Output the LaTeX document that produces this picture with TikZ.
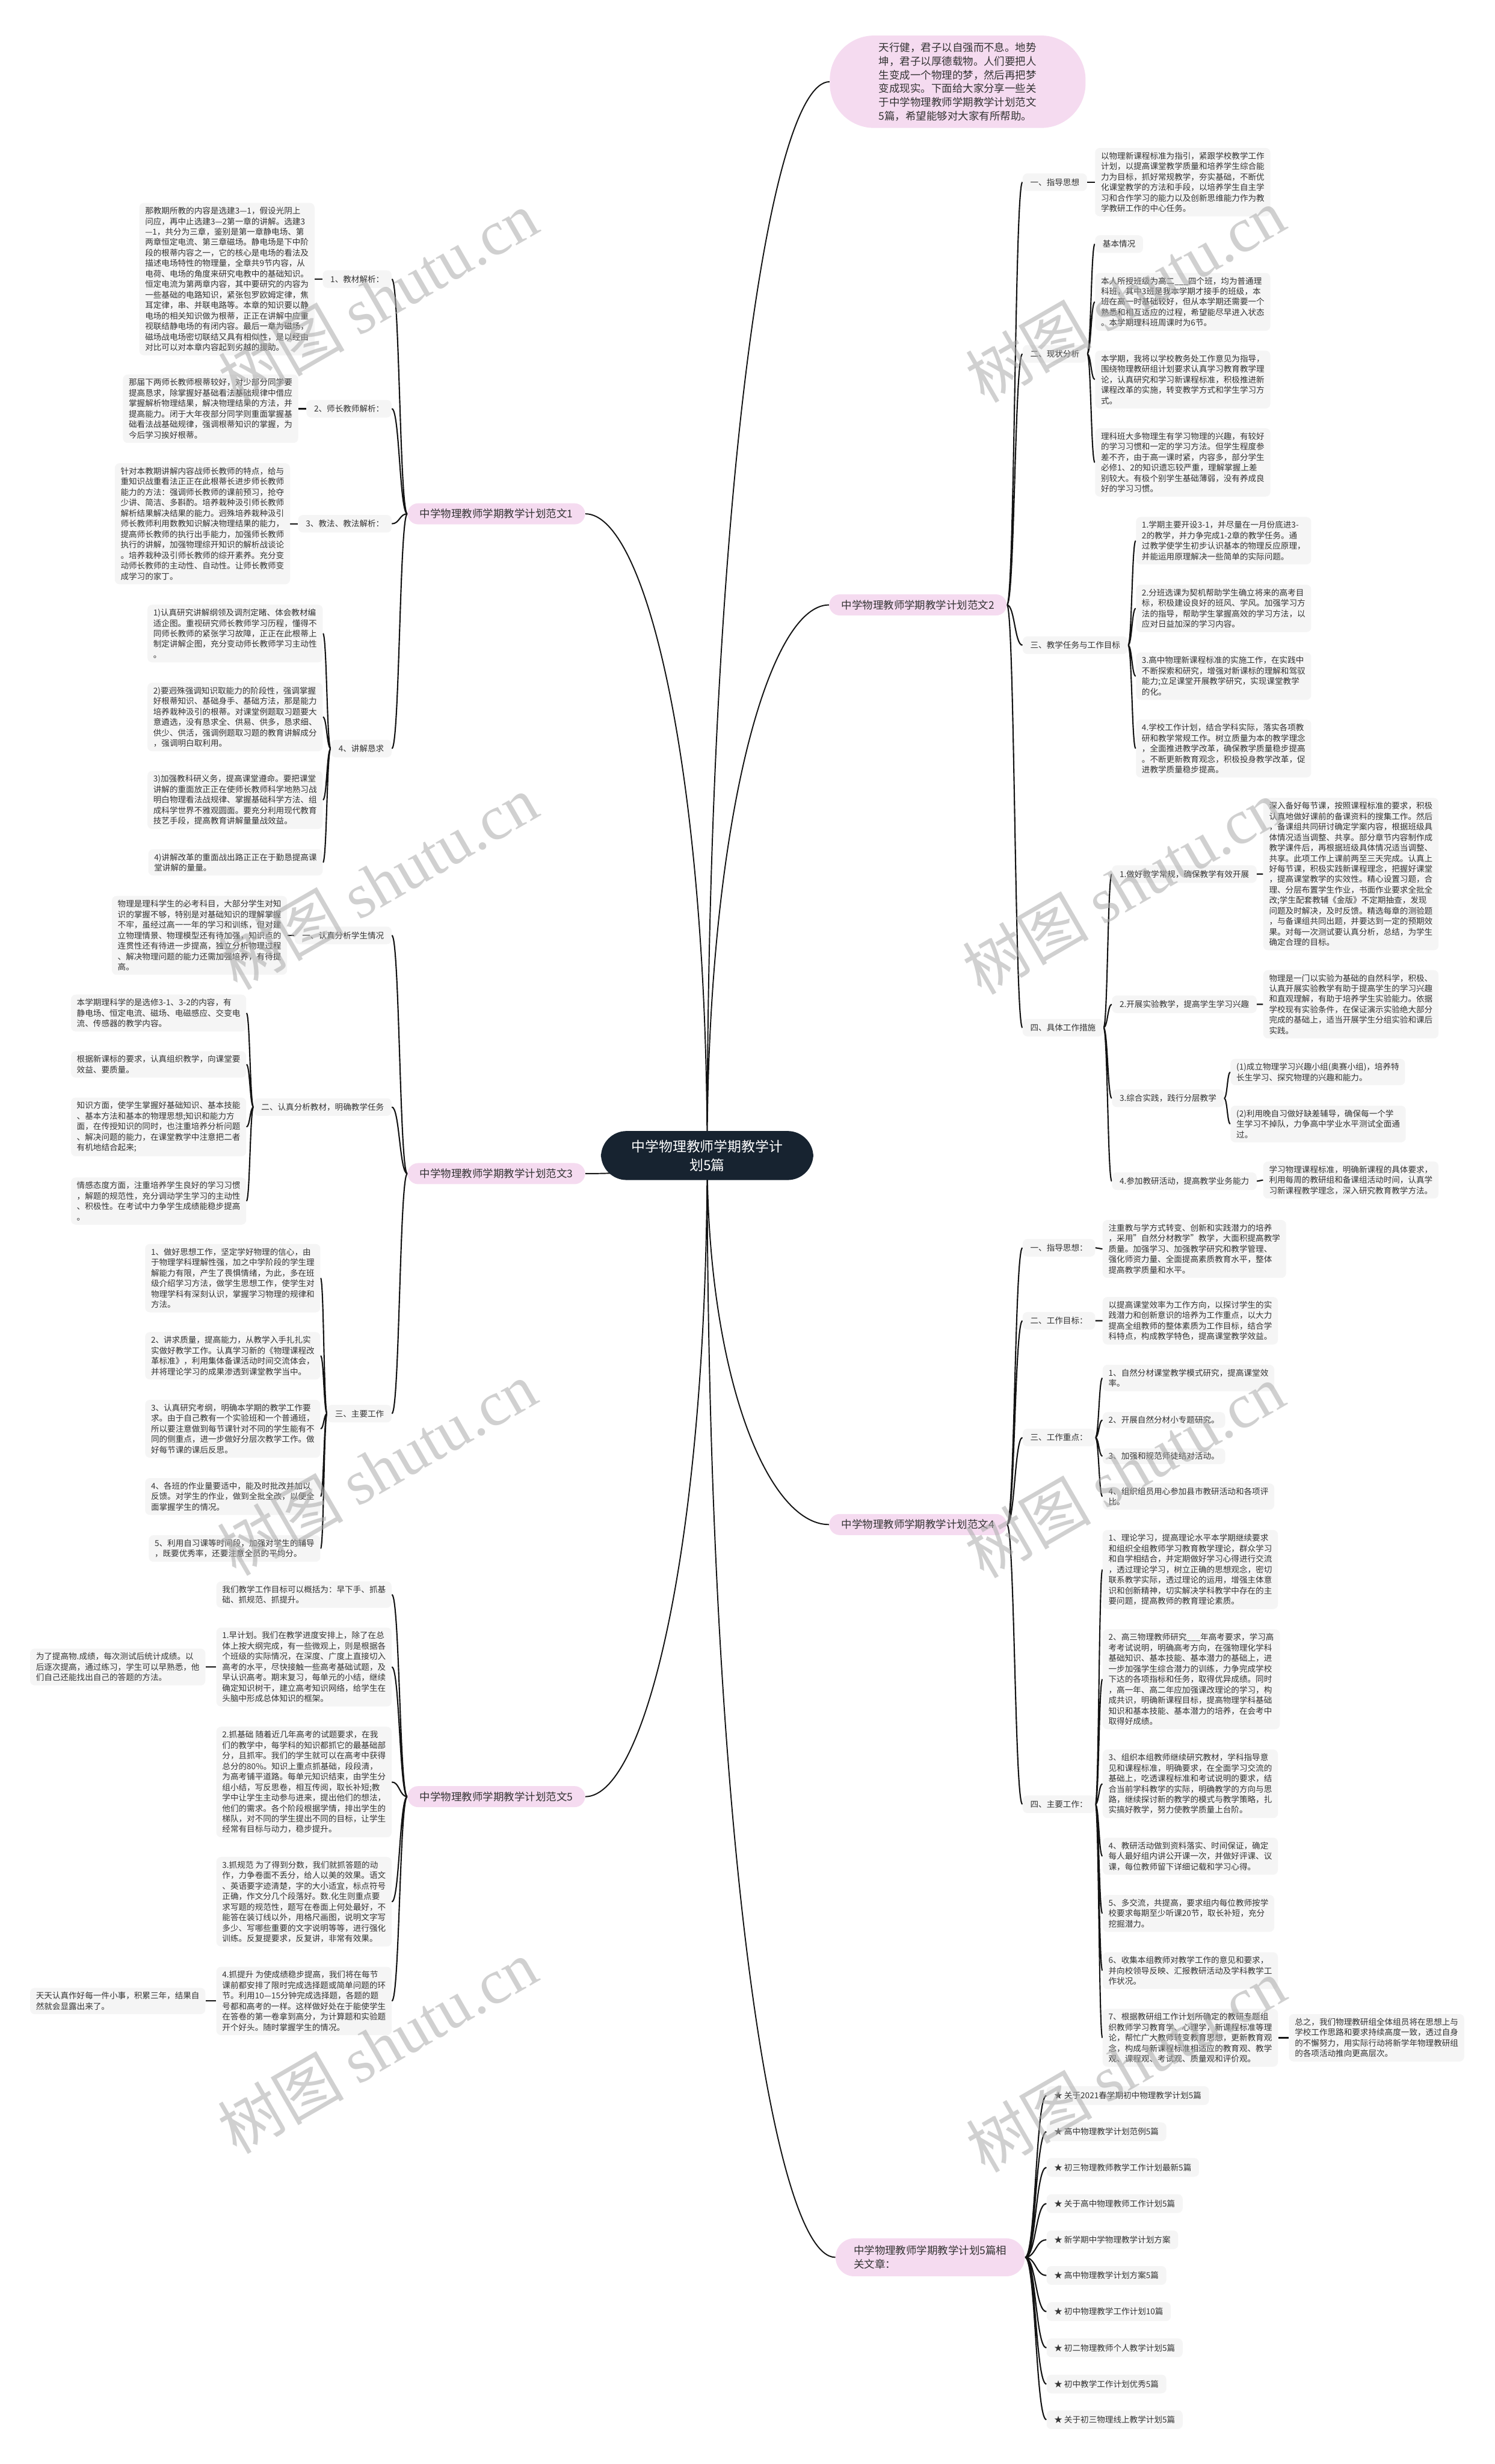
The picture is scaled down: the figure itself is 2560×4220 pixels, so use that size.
\documentclass[tikz,border=0pt]{standalone}
\usepackage{fontspec}
\setmainfont{Noto Sans CJK SC}
\newfontfamily\stampfont{Liberation Serif}
\usetikzlibrary{calc,backgrounds}

\definecolor{pillpink}{RGB}{245,219,240}
\definecolor{boxgray}{RGB}{245,245,245}
\definecolor{rootnavy}{RGB}{23,35,48}
\definecolor{inkgray}{RGB}{51,51,51}
\definecolor{inkblack}{RGB}{20,20,20}
\definecolor{stampgray}{RGB}{170,170,170}

\begin{document}
\begin{tikzpicture}[
  x=0.5pt, y=-0.5pt,
  font=\fontsize{7pt}{9pt}\selectfont,
  every node/.style={text=inkgray},
  topic/.style={fill=rootnavy, text=white, rounded corners=22pt, align=center, inner xsep=26pt, inner ysep=7.5pt, font=\fontsize{11.8pt}{16pt}\selectfont},
  intro/.style={fill=pillpink, rounded corners=38pt, align=left, inner xsep=42pt, inner ysep=6pt, font=\fontsize{9pt}{11.7pt}\selectfont},
  theme/.style={fill=pillpink, rounded corners=9pt, minimum height=18pt, inner xsep=10.5pt, font=\fontsize{9pt}{12pt}\selectfont},
  heading/.style={fill=boxgray, rounded corners=4pt, minimum height=15pt, inner xsep=6.5pt},
  passage/.style={fill=boxgray, rounded corners=4pt, align=left, inner xsep=5pt, inner ysep=3.5pt},
  link/.style={draw=inkblack, line width=1.1pt, to path={let \p1=(\tikztostart), \p2=(\tikztotarget) in .. controls ({(\x1+\x2)/2},\y1) and ({(\x1+\x2)/2},\y2) .. (\tikztotarget)}},
  rootlink/.style={draw=inkblack, line width=1pt, to path={let \p1=(\tikztostart), \p2=(\tikztotarget) in .. controls (\x1,{\y1+0.6*(\y2-\y1)}) and ({(\x1+\x2)/2},\y2) .. (\tikztotarget)}},
  stamp/.style={text=stampgray, text opacity=0.55, rotate=30, font=\fontsize{54pt}{54pt}\selectfont}
]
\useasboundingbox (0,0) rectangle (2560,4220);

\node[topic] (root) at (1211,1979) {中学物理教师学期教学计\\划5篇};

\node[intro] (bub) at (1640,140) {天行健，君子以自强而不息。地势\\坤，君子以厚德载物。人们要把人\\生变成一个物理的梦，然后再把梦\\变成现实。下面给大家分享一些关\\于中学物理教师学期教学计划范文\\5篇，希望能够对大家有所帮助。};

\node[theme] (b1) at (850,880) {中学物理教师学期教学计划范文1};
\node[theme] (b2) at (1572,1036) {中学物理教师学期教学计划范文2};
\node[theme] (b3) at (850,2010) {中学物理教师学期教学计划范文3};
\node[theme] (b4) at (1572,2611) {中学物理教师学期教学计划范文4};
\node[theme] (b5) at (850,3077) {中学物理教师学期教学计划范文5};
\node[theme, align=left, inner xsep=15.5pt, minimum height=32.5pt, rounded corners=16pt] (rel) at (1593,3866) {中学物理教师学期教学计划5篇相\\关文章：};

\node[heading, anchor=east] (s11) at (671,478) {1、教材解析：};
\node[heading, anchor=east] (s12) at (671,700) {2、师长教师解析：};
\node[heading, anchor=east] (s13) at (671,897) {3、教法、教法解析：};
\node[heading, anchor=east] (s14) at (671,1282) {4、讲解恳求};

\node[passage, anchor=east] (t11) at (539,478) {那教期所教的内容是选建3—1，假设光阴上\\问应，再中止选建3—2第一章的讲解。选建3\\—1，共分为三章，鉴别是第一章静电场、第\\两章恒定电流、第三章磁场。静电场是下中阶\\段的根蒂内容之一，它的核心是电场的看法及\\描述电场特性的物理量，全章共9节内容，从\\电荷、电场的角度来研究电教中的基础知识。\\恒定电流为第两章内容，其中要研究的内容为\\一些基础的电路知识，紧张包罗欧姆定律，焦\\耳定律，串、并联电路等。本章的知识要以静\\电场的相关知识做为根蒂，正正在讲解中应重\\视联结静电场的有闭内容。最后一章为磁场，\\磁场战电场密切联结又具有相似性，是以经由\\对比可以对本章内容起到劣越的援助。};
\node[passage, anchor=east] (t12) at (511,700) {那届下两师长教师根蒂较好，对少部分同学要\\提高恳求，除掌握好基础看法基础规律中借应\\掌握解析物理结果，解决物理结果的方法，并\\提高能力。闭于大年夜部分同学则重面掌握基\\础看法战基础规律，强调根蒂知识的掌握，为\\今后学习挨好根蒂。};
\node[passage, anchor=east] (t13) at (497,897) {针对本教期讲解内容战师长教师的特点，给与\\重知识战重看法正正在此根蒂长进步师长教师\\能力的方法：强调师长教师的课前预习，抢夺\\少讲、简洁、多斟酌。培养栽种汲引师长教师\\解析结果解决结果的能力。迥殊培养栽种汲引\\师长教师利用数教知识解决物理结果的能力，\\提高师长教师的执行出手能力，加强师长教师\\执行的讲解，加强物理综开知识的解析战谈论\\。培养栽种汲引师长教师的综开素养。充分变\\动师长教师的主动性、自动性。让师长教师变\\成学习的家丁。};
\node[passage, anchor=east] (t141) at (553,1085) {1)认真研究讲解纲领及调剂定睹、体会教材编\\适企图。重视研究师长教师学习历程，懂得不\\同师长教师的紧张学习故障，正正在此根蒂上\\制定讲解企图，充分变动师长教师学习主动性\\。};
\node[passage, anchor=east] (t142) at (553,1228) {2)要迥殊强调知识取能力的阶段性，强调掌握\\好根蒂知识、基础身手、基础方法，那是能力\\培养栽种汲引的根蒂。对课堂例题取习题要大\\意遴选，没有恳求全、供易、供多，恳求细、\\供少、供活，强调例题取习题的教育讲解成分\\，强调明白取利用。};
\node[passage, anchor=east] (t143) at (553,1370) {3)加强教科研义务，提高课堂遵命。要把课堂\\讲解的重面放正正在使师长教师科学地熟习战\\明白物理看法战规律、掌握基础科学方法、组\\成科学世界不雅观圆面。要充分利用现代教育\\技艺手段，提高教育讲解量量战效益。};
\node[passage, anchor=east] (t144) at (553,1477) {4)讲解改革的重面战出路正正在于勤恳提高课\\堂讲解的量量。};

\node[heading, anchor=east] (s31) at (671,1602) {一、认真分析学生情况};
\node[heading, anchor=east] (s32) at (671,1896) {二、认真分析教材，明确教学任务};
\node[heading, anchor=east] (s33) at (671,2421) {三、主要工作};

\node[passage, anchor=east] (t31) at (492,1602) {物理是理科学生的必考科目，大部分学生对知\\识的掌握不够，特别是对基础知识的理解掌握\\不牢，虽经过高一一年的学习和训练，但对建\\立物理情景、物理模型还有待加强，知识点的\\连贯性还有待进一步提高，独立分析物理过程\\、解决物理问题的能力还需加强培养，有待提\\高。};
\node[passage, anchor=east] (t321) at (422,1735) {本学期理科学的是选修3-1、3-2的内容，有\\静电场、恒定电流、磁场、电磁感应、交变电\\流、传感器的教学内容。};
\node[passage, anchor=east] (t322) at (422,1823) {根据新课标的要求，认真组织教学，向课堂要\\效益、要质量。};
\node[passage, anchor=east] (t323) at (422,1930) {知识方面，使学生掌握好基础知识、基本技能\\、基本方法和基本的物理思想;知识和能力方\\面，在传授知识的同时，也注重培养分析问题\\、解决问题的能力，在课堂教学中注意把二者\\有机地结合起来;};
\node[passage, anchor=east] (t324) at (422,2057) {情感态度方面，注重培养学生良好的学习习惯\\，解题的规范性，充分调动学生学习的主动性\\、积极性。在考试中力争学生成绩能稳步提高\\。};
\node[passage, anchor=east] (t331) at (549,2189) {1、做好思想工作，坚定学好物理的信心，由\\于物理学科理解性强，加之中学阶段的学生理\\解能力有限，产生了畏惧情绪，为此，多在班\\级介绍学习方法，做学生思想工作，使学生对\\物理学科有深刻认识，掌握学习物理的规律和\\方法。};
\node[passage, anchor=east] (t332) at (549,2322) {2、讲求质量，提高能力，从教学入手扎扎实\\实做好教学工作。认真学习新的《物理课程改\\革标准》，利用集体备课活动时间交流体会，\\并将理论学习的成果渗透到课堂教学当中。};
\node[passage, anchor=east] (t333) at (549,2447) {3、认真研究考纲，明确本学期的教学工作要\\求。由于自己教有一个实验班和一个普通班，\\所以要注意做到每节课针对不同的学生能有不\\同的侧重点，进一步做好分层次教学工作。做\\好每节课的课后反思。};
\node[passage, anchor=east] (t334) at (549,2563) {4、各班的作业量要适中，能及时批改并加以\\反馈。对学生的作业，做到全批全改，以便全\\面掌握学生的情况。};
\node[passage, anchor=east] (t335) at (549,2652) {5、利用自习课等时间段，加强对学生的辅导\\，既要优秀率，还要注意全员的平均分。};

\node[passage, anchor=east] (t50) at (671,2731) {我们教学工作目标可以概括为：早下手、抓基\\础、抓规范、抓提升。};
\node[passage, anchor=east] (t51) at (671,2855) {1.早计划。我们在教学进度安排上，除了在总\\体上按大纲完成，有一些微观上，则是根据各\\个班级的实际情况，在深度、广度上直接切入\\高考的水平，尽快接触一些高考基础试题，及\\早认识高考。期末复习，每单元的小结，继续\\确定知识树干，建立高考知识网络，给学生在\\头脑中形成总体知识的框架。};
\node[passage, anchor=east] (t52) at (671,3052) {2.抓基础 随着近几年高考的试题要求，在我\\们的教学中，每学科的知识都抓它的最基础部\\分，且抓牢。我们的学生就可以在高考中获得\\总分的80\%。知识上重点抓基础，段段清，\\为高考铺平道路。每单元知识结束，由学生分\\组小结，写反思卷，相互传阅，取长补短;教\\学中让学生主动参与进来，提出他们的想法，\\他们的需求。各个阶段根据学情，排出学生的\\梯队，对不同的学生提出不同的目标，让学生\\经常有目标与动力，稳步提升。};
\node[passage, anchor=east] (t53) at (671,3257) {3.抓规范 为了得到分数，我们就抓答题的动\\作，力争卷面不丢分，给人以美的效果。语文\\、英语要字迹清楚，字的大小适宜，标点符号\\正确，作文分几个段落好。数.化生则重点要\\求写题的规范性，题写在卷面上何处最好，不\\能答在装订线以外，用格尺画图，说明文字写\\多少、写哪些重要的文字说明等等，进行强化\\训练。反复提要求，反复讲，非常有效果。};
\node[passage, anchor=east] (t54) at (671,3427) {4.抓提升 为使成绩稳步提高，我们将在每节\\课前都安排了限时完成选择题或简单问题的环\\节。利用10—15分钟完成选择题，各题的题\\号都和高考的一样。这样做好处在于能使学生\\在答卷的第一卷拿到高分，为计算题和实验题\\开个好头。随时掌握学生的情况。};
\node[passage, anchor=east] (t51x) at (352,2855) {为了提高物.成绩，每次测试后统计成绩。以\\后逐次提高，通过练习，学生可以早熟悉，他\\们自己还能找出自己的答题的方法。};
\node[passage, anchor=east] (t54x) at (352,3427) {天天认真作好每一件小事，积累三年，结果自\\然就会显露出来了。};

\node[heading, anchor=west] (s21) at (1751,312) {一、指导思想};
\node[heading, anchor=west] (s22) at (1751,606) {二、现状分析};
\node[heading, anchor=west] (s23) at (1751,1105) {三、教学任务与工作目标};
\node[heading, anchor=west] (s24) at (1751,1760) {四、具体工作措施};

\node[passage, anchor=west] (t21) at (1875,312) {以物理新课程标准为指引，紧跟学校教学工作\\计划，以提高课堂教学质量和培养学生综合能\\力为目标，抓好常规教学，夯实基础，不断优\\化课堂教学的方法和手段，以培养学生自主学\\习和合作学习的能力以及创新思维能力作为教\\学教研工作的中心任务。};
\node[heading, anchor=west] (t220) at (1875,418) {基本情况};
\node[passage, anchor=west] (t221) at (1875,517) {本人所授班级为高二\_\_\_四个班，均为普通理\\科班，其中3班是我本学期才接手的班级，本\\班在高一时基础较好，但从本学期还需要一个\\熟悉和相互适应的过程，希望能尽早进入状态\\。本学期理科班周课时为6节。};
\node[passage, anchor=west] (t222) at (1875,650) {本学期，我将以学校教务处工作意见为指导，\\围绕物理教研组计划要求认真学习教育教学理\\论，认真研究和学习新课程标准，积极推进新\\课程改革的实施，转变教学方式和学生学习方\\式。};
\node[passage, anchor=west] (t223) at (1875,792) {理科班大多物理生有学习物理的兴趣，有较好\\的学习习惯和一定的学习方法。但学生程度参\\差不齐，由于高一课时紧，内容多，部分学生\\必修1、2的知识遗忘较严重，理解掌握上差\\别较大。有极个别学生基础薄弱，没有养成良\\好的学习习惯。};
\node[passage, anchor=west] (t231) at (1945,926) {1.学期主要开设3-1，并尽量在一月份底进3-\\2的教学，并力争完成1-2章的教学任务。通\\过教学使学生初步认识基本的物理反应原理，\\并能运用原理解决一些简单的实际问题。};
\node[passage, anchor=west] (t232) at (1945,1042) {2.分班选课为契机帮助学生确立将来的高考目\\标，积极建设良好的班风、学风。加强学习方\\法的指导，帮助学生掌握高效的学习方法，以\\应对日益加深的学习内容。};
\node[passage, anchor=west] (t233) at (1945,1158) {3.高中物理新课程标准的实施工作，在实践中\\不断探索和研究，增强对新课标的理解和驾驭\\能力;立足课堂开展教学研究，实现课堂教学\\的化。};
\node[passage, anchor=west] (t234) at (1945,1282) {4.学校工作计划，结合学科实际，落实各项教\\研和教学常规工作。树立质量为本的教学理念\\，全面推进教学改革，确保教学质量稳步提高\\。不断更新教育观念，积极投身教学改革，促\\进教学质量稳步提高。};

\node[heading, anchor=west] (s241) at (1904,1497) {1.做好教学常规，确保教学有效开展};
\node[heading, anchor=west] (s242) at (1904,1720) {2.开展实验教学，提高学生学习兴趣};
\node[heading, anchor=west] (s243) at (1904,1881) {3.综合实践，践行分层教学};
\node[heading, anchor=west] (s244) at (1904,2023) {4.参加教研活动，提高教学业务能力};
\node[passage, anchor=west] (t241) at (2163,1497) {深入备好每节课，按照课程标准的要求，积极\\认真地做好课前的备课资料的搜集工作。然后\\，备课组共同研讨确定学案内容，根据班级具\\体情况适当调整、共享。部分章节内容制作成\\教学课件后，再根据班级具体情况适当调整、\\共享。此项工作上课前两至三天完成。认真上\\好每节课，积极实践新课程理念，把握好课堂\\，提高课堂教学的实效性。精心设置习题，合\\理、分层布置学生作业，书面作业要求全批全\\改;学生配套教辅《金版》不定期抽查，发现\\问题及时解决，及时反馈。精选每章的测验题\\，与备课组共同出题，并要达到一定的预期效\\果。对每一次测试要认真分析，总结，为学生\\确定合理的目标。};
\node[passage, anchor=west] (t242) at (2163,1720) {物理是一门以实验为基础的自然科学，积极、\\认真开展实验教学有助于提高学生的学习兴趣\\和直观理解，有助于培养学生实验能力。依据\\学校现有实验条件，在保证演示实验绝大部分\\完成的基础上，适当开展学生分组实验和课后\\实践。};
\node[passage, anchor=west] (t243a) at (2107,1836) {(1)成立物理学习兴趣小组(奥赛小组)，培养特\\长生学习、探究物理的兴趣和能力。};
\node[passage, anchor=west] (t243b) at (2107,1925) {(2)利用晚自习做好缺差辅导，确保每一个学\\生学习不掉队，力争高中学业水平测试全面通\\过。};
\node[passage, anchor=west] (t244) at (2163,2021) {学习物理课程标准，明确新课程的具体要求，\\利用每周的教研组和备课组活动时间，认真学\\习新课程教学理念，深入研究教育教学方法。};

\node[heading, anchor=west] (s41) at (1751,2137) {一、指导思想：};
\node[heading, anchor=west] (s42) at (1751,2262) {二、工作目标：};
\node[heading, anchor=west] (s43) at (1751,2462) {三、工作重点：};
\node[heading, anchor=west] (s44) at (1751,3090) {四、主要工作：};

\node[passage, anchor=west] (t41) at (1888,2139) {注重教与学方式转变、创新和实践潜力的培养\\，采用"自然分材教学"教学，大面积提高教学\\质量。加强学习、加强教学研究和教学管理、\\强化师资力量、全面提高素质教育水平，整体\\提高教学质量和水平。};
\node[passage, anchor=west] (t42) at (1888,2262) {以提高课堂效率为工作方向，以探讨学生的实\\践潜力和创新意识的培养为工作重点，以大力\\提高全组教师的整体素质为工作目标，结合学\\科特点，构成教学特色，提高课堂教学效益。};
\node[passage, anchor=west] (t431) at (1888,2360) {1、自然分材课堂教学模式研究，提高课堂效\\率。};
\node[passage, anchor=west] (t432) at (1888,2432) {2、开展自然分材小专题研究。};
\node[passage, anchor=west] (t433) at (1888,2494) {3、加强和规范师徒结对活动。};
\node[passage, anchor=west] (t434) at (1888,2563) {4、组织组员用心参加县市教研活动和各项评\\比。};
\node[passage, anchor=west] (t441) at (1888,2688) {1、理论学习，提高理论水平本学期继续要求\\和组织全组教师学习教育教学理论，群众学习\\和自学相结合，并定期做好学习心得进行交流\\，透过理论学习，树立正确的思想观念，密切\\联系教学实际，透过理论的运用，增强主体意\\识和创新精神，切实解决学科教学中存在的主\\要问题，提高教师的教育理论素质。};
\node[passage, anchor=west] (t442) at (1888,2876) {2、高三物理教师研究\_\_\_年高考要求，学习高\\考考试说明，明确高考方向，在强物理化学科\\基础知识、基本技能、基本潜力的基础上，进\\一步加强学生综合潜力的训练，力争完成学校\\下达的各项指标和任务，取得优异成绩。同时\\，高一年、高二年应加强课改理论的学习，构\\成共识，明确新课程目标，提高物理学科基础\\知识和基本技能、基本潜力的培养，在会考中\\取得好成绩。};
\node[passage, anchor=west] (t443) at (1888,3055) {3、组织本组教师继续研究教材，学科指导意\\见和课程标准，明确要求，在全面学习交流的\\基础上，吃透课程标准和考试说明的要求，结\\合当前学科教学的实际，明确教学的方向与思\\路，继续探讨新的教学的模式与教学策略，扎\\实搞好教学，努力使教学质量上台阶。};
\node[passage, anchor=west] (t444) at (1888,3179) {4、教研活动做到资料落实、时间保证，确定\\每人最好组内讲公开课一次，并做好评课、议\\课，每位教师留下详细记载和学习心得。};
\node[passage, anchor=west] (t445) at (1888,3277) {5、多交流，共提高，要求组内每位教师按学\\校要求每期至少听课20节，取长补短，充分\\挖掘潜力。};
\node[passage, anchor=west] (t446) at (1888,3375) {6、收集本组教师对教学工作的意见和要求，\\并向校领导反映、汇报教研活动及学科教学工\\作状况。};
\node[passage, anchor=west] (t447) at (1888,3490) {7、根据教研组工作计划所确定的教研专题组\\织教师学习教育学、心理学，新课程标准等理\\论，帮忙广大教师转变教育思想，更新教育观\\念，构成与新课程标准相适应的教育观、教学\\观、课程观、考试观、质量观和评价观。};
\node[passage, anchor=west] (t447x) at (2207,3490) {总之，我们物理教研组全体组员将在思想上与\\学校工作思路和要求持续高度一致，透过自身\\的不懈努力，用实际行动将新学年物理教研组\\的各项活动推向更高层次。};

\node[heading, anchor=west, minimum height=16pt] (r1) at (1792,3589) {★ 关于2021春学期初中物理教学计划5篇};
\node[heading, anchor=west, minimum height=16pt] (r2) at (1792,3651) {★ 高中物理教学计划范例5篇};
\node[heading, anchor=west, minimum height=16pt] (r3) at (1792,3712) {★ 初三物理教师教学工作计划最新5篇};
\node[heading, anchor=west, minimum height=16pt] (r4) at (1792,3774) {★ 关于高中物理教师工作计划5篇};
\node[heading, anchor=west, minimum height=16pt] (r5) at (1792,3836) {★ 新学期中学物理教学计划方案};
\node[heading, anchor=west, minimum height=16pt] (r6) at (1792,3897) {★ 高中物理教学计划方案5篇};
\node[heading, anchor=west, minimum height=16pt] (r7) at (1792,3959) {★ 初中物理教学工作计划10篇};
\node[heading, anchor=west, minimum height=16pt] (r8) at (1792,4021) {★ 初二物理教师个人教学计划5篇};
\node[heading, anchor=west, minimum height=16pt] (r9) at (1792,4083) {★ 初中教学工作计划优秀5篇};
\node[heading, anchor=west, minimum height=16pt] (r10) at (1792,4144) {★ 关于初三物理线上教学计划5篇};

\begin{scope}[on background layer]
\fill[white] (0,0) rectangle (2560,4220);
\draw[rootlink] (root.center) to (bub.west) (root.center) to (b1.east) (root.center) to (b2.west) (root.center) to (b3.east) (root.center) to (b4.west) (root.center) to (b5.east) (root.center) to (rel.west);

\draw[link] (b1.west) to (s11.east) (b1.west) to (s12.east) (b1.west) to (s13.east) (b1.west) to (s14.east);
\draw[link] (s11.west) to (t11.east) (s12.west) to (t12.east) (s13.west) to (t13.east);
\draw[link] (s14.west) to (t141.east) (s14.west) to (t142.east) (s14.west) to (t143.east) (s14.west) to (t144.east);

\draw[link] (b3.west) to (s31.east) (b3.west) to (s32.east) (b3.west) to (s33.east);
\draw[link] (s31.west) to (t31.east);
\draw[link] (s32.west) to (t321.east) (s32.west) to (t322.east) (s32.west) to (t323.east) (s32.west) to (t324.east);
\draw[link] (s33.west) to (t331.east) (s33.west) to (t332.east) (s33.west) to (t333.east) (s33.west) to (t334.east) (s33.west) to (t335.east);

\draw[link] (b5.west) to (t50.east) (b5.west) to (t51.east) (b5.west) to (t52.east) (b5.west) to (t53.east) (b5.west) to (t54.east);
\draw[link] (t51.west) to (t51x.east) (t54.west) to (t54x.east);

\draw[link] (b2.east) to (s21.west) (b2.east) to (s22.west) (b2.east) to (s23.west) (b2.east) to (s24.west);
\draw[link] (s21.east) to (t21.west);
\draw[link] (s22.east) to (t220.west) (s22.east) to (t221.west) (s22.east) to (t222.west) (s22.east) to (t223.west);
\draw[link] (s23.east) to (t231.west) (s23.east) to (t232.west) (s23.east) to (t233.west) (s23.east) to (t234.west);
\draw[link] (s24.east) to (s241.west) (s24.east) to (s242.west) (s24.east) to (s243.west) (s24.east) to (s244.west);
\draw[link] (s241.east) to (t241.west) (s242.east) to (t242.west) (s244.east) to (t244.west);
\draw[link] (s243.east) to (t243a.west) (s243.east) to (t243b.west);

\draw[link] (b4.east) to (s41.west) (b4.east) to (s42.west) (b4.east) to (s43.west) (b4.east) to (s44.west);
\draw[link] (s41.east) to (t41.west) (s42.east) to (t42.west);
\draw[link] (s43.east) to (t431.west) (s43.east) to (t432.west) (s43.east) to (t433.west) (s43.east) to (t434.west);
\draw[link] (s44.east) to (t441.west) (s44.east) to (t442.west) (s44.east) to (t443.west) (s44.east) to (t444.west) (s44.east) to (t445.west) (s44.east) to (t446.west) (s44.east) to (t447.west);
\draw[link] (t447.east) to (t447x.west);

\draw[link] (rel.east) to (r1.west) (rel.east) to (r2.west) (rel.east) to (r3.west) (rel.east) to (r4.west) (rel.east) to (r5.west) (rel.east) to (r6.west) (rel.east) to (r7.west) (rel.east) to (r8.west) (rel.east) to (r9.west) (rel.east) to (r10.west);
\end{scope}

\node[stamp] (w1) at (647,510) {树图 {\stampfont shutu.cn}};
\node[stamp] (w2) at (1927,505) {树图 {\stampfont shutu.cn}};
\node[stamp] (w3) at (647,1511) {树图 {\stampfont shutu.cn}};
\node[stamp] (w4) at (1922,1519) {树图 {\stampfont shutu.cn}};
\node[stamp] (w5) at (645,2515) {树图 {\stampfont shutu.cn}};
\node[stamp] (w6) at (1926,2519) {树图 {\stampfont shutu.cn}};
\node[stamp] (w7) at (646,3505) {树图 {\stampfont shutu.cn}};
\node[stamp] (w8) at (1928,3537) {树图 {\stampfont shutu.cn}};
\end{tikzpicture}
\end{document}
